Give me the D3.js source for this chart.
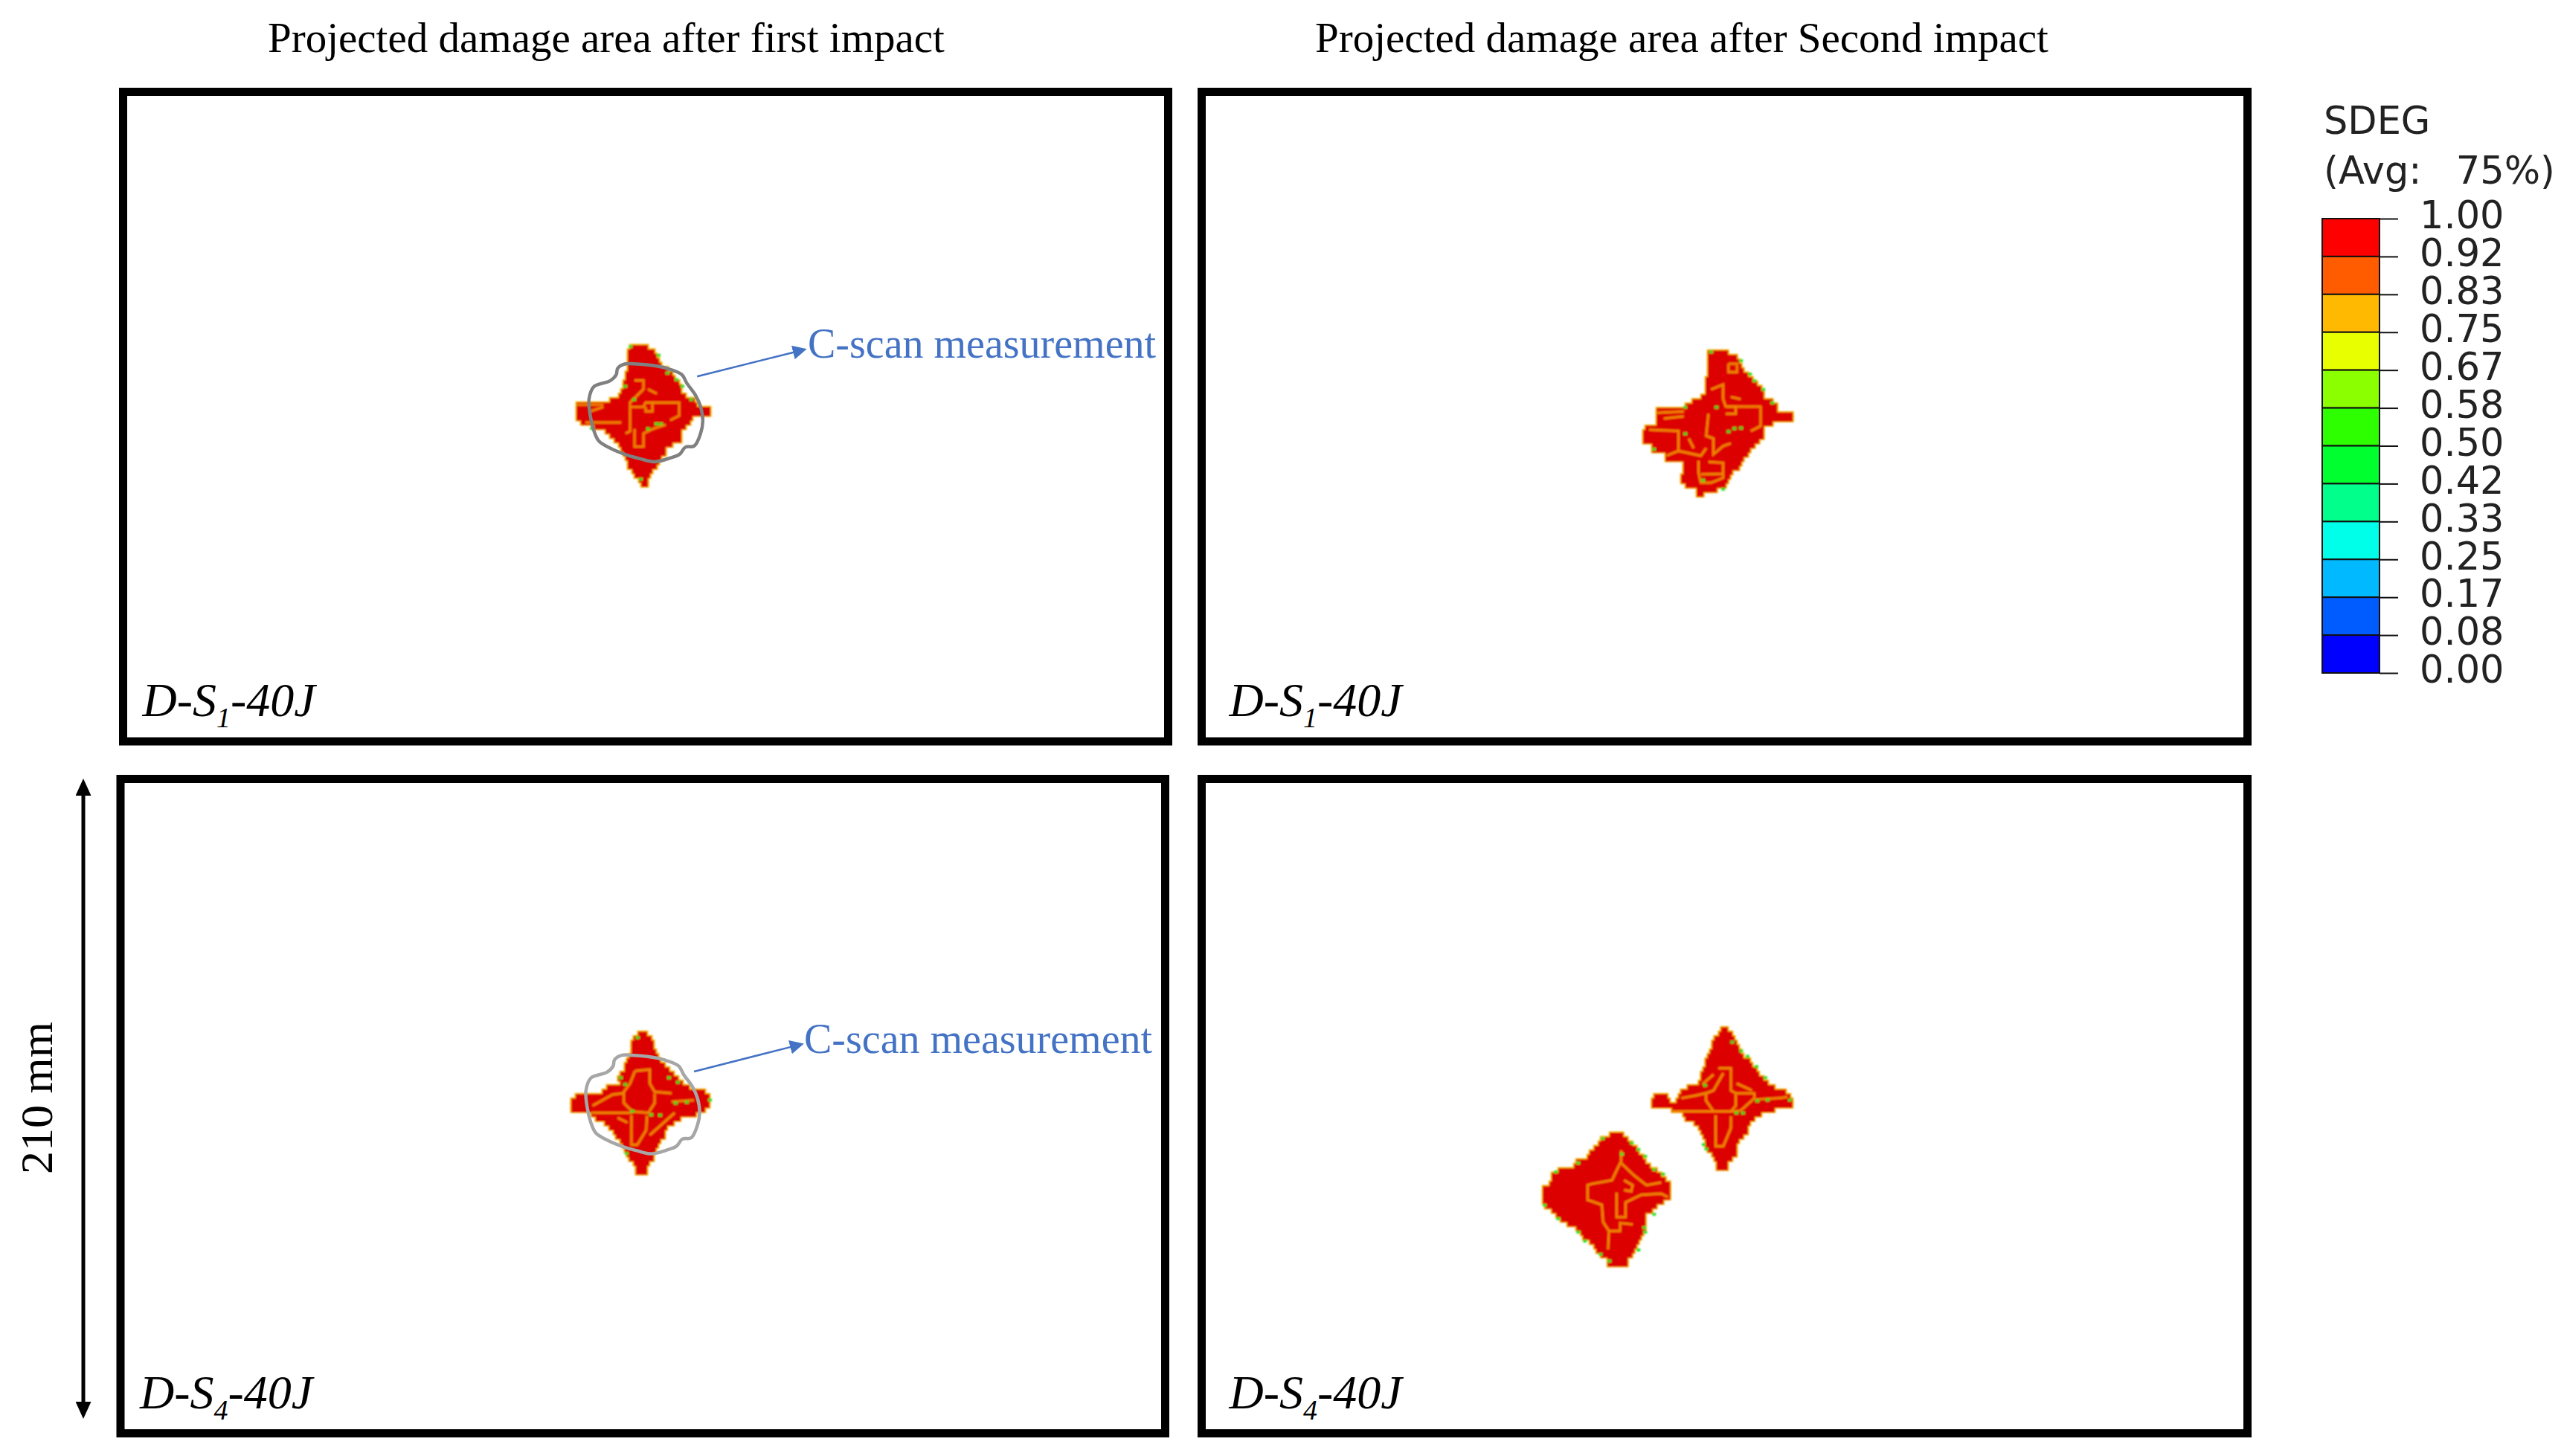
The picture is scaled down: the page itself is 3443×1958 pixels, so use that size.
<!DOCTYPE html>
<html>
<head>
<meta charset="utf-8">
<script src="https://cdn.jsdelivr.net/npm/d3@7"></script>
<style>
  html, body { margin: 0; padding: 0; background: #fff; }
  svg { display: block; }
  .serif { font-family: "Liberation Serif", serif; }
</style>
</head>
<body>
<div id="chart"></div>
<script>
// legend
const levels = ["1.00","0.92","0.83","0.75","0.67","0.58","0.50","0.42","0.33","0.25","0.17","0.08","0.00"];
const levelColors = ["#ff0000","#ff5c00","#ffb900","#e8ff00","#8bff00","#2eff00","#00ff2e","#00ff8b","#00ffe8","#00b9ff","#005cff","#0000ff"];

const columnTitles = ["Projected damage area after first impact", "Projected damage area after Second impact"];
const plateHeightMm = 210, plateWidthMm = 335, elementMm = 1.43;

// damage footprints: [row, first col, last col] in elements from the blob centre
const rowsA = [[-15,-3,1],[-14,-3.5,2.5],[-13,-3.5,3],[-12,-3.5,3.5],[-11,-3.5,4],[-10,-3.5,5.5],[-9,-4,6.5],[-8,-4,7],[-7,-4.5,8],[-6,-4.5,8.5],[-5,-5,8.5],[-4,-5.5,9.5],[-3,-7.5,11.5],[-2,-15,12],[-1,-15,15],[0,-15,15],[1,-15,11],[2,-14,10.5],[3,-11,9.5],[4,-8.5,8.5],[5,-7.5,8.5],[6,-6.5,8.5],[7,-5.5,6.5],[8,-5,5],[9,-4.5,5],[10,-4,4],[11,-3.5,3.5],[12,-3.5,3],[13,-2.5,2],[14,-2,1.5],[15,-1,1],[16,-0.5,1]];
const rowsB = [[-16,-4,0.5],[-15,-4,2.5],[-14,-4,3],[-13,-4,3.5],[-12,-4,4],[-11,-4,5],[-10,-4.5,6],[-9,-4.5,7],[-8,-4.5,8],[-7,-4.5,8.5],[-6,-5.5,8.5],[-5,-7.5,10.5],[-4,-9,11.5],[-3,-15.5,11.5],[-2,-15.5,15],[-1,-15.5,15],[0,-15.5,10.5],[1,-18,8.5],[2,-18.5,8.5],[3,-18.5,8.5],[4,-18.5,7.5],[5,-16.5,6.5],[6,-16.5,5.5],[7,-13.5,5],[8,-13.5,4],[9,-9.5,3.5],[10,-9.5,3],[11,-9.5,1.5],[12,-10,1],[13,-10,0.5],[14,-9,0],[15,-6.5,-2],[16,-6.5,-5]];
const rowsC = [[-16,-0.5,1.5],[-15,-1.5,2.5],[-14,-2,3],[-13,-2,3],[-12,-2,3.5],[-11,-2.5,4],[-10,-3,4.5],[-9,-3.5,5.5],[-8,-3.5,6.5],[-7,-4.5,7.5],[-6,-5,8.5],[-5,-4.5,9.5],[-4,-7.5,11],[-3,-8.5,14.5],[-2,-14.5,15.5],[-1,-15.5,15.5],[0,-15.5,15.5],[1,-15.5,14.5],[2,-11,12.5],[3,-10,9],[4,-8,7.5],[5,-7,6],[6,-6,5.5],[7,-5.5,5.5],[8,-4.5,4.5],[9,-4,4],[10,-3.5,3.5],[11,-3,3],[12,-2.5,3],[13,-1.5,2],[14,-1,1.5],[15,-1,1.5]];
const rowsD1 = [[-17,-0.5,1],[-16,-1,2],[-15,-2,2.5],[-14,-2.5,3],[-13,-2.5,3.5],[-12,-3,4],[-11,-3.5,4.5],[-10,-4,6],[-9,-4,6.5],[-8,-4.5,7.5],[-7,-5,8],[-6,-5,9],[-5,-5.5,10],[-4,-8,11.5],[-3,-9.5,14],[-2,-15.5,-12.5],[-2,-10,15],[-1,-16,-12],[-1,-10.5,15.5],[0,-16,15.5],[1,-11.5,11.5],[2,-9,8.5],[3,-8.5,7],[4,-6.5,6],[5,-5.5,5.5],[6,-5,5.5],[7,-4.5,4.5],[8,-4,3.5],[9,-4,3],[10,-3.5,3],[11,-2.5,3],[12,-2,2],[13,-1.5,1],[14,-1.5,1]];
const rowsD2 = [[-14,-1.5,1.5],[-13,-3.5,2.5],[-12,-4,3.5],[-11,-5,4.5],[-10,-6,5],[-9,-6.5,6],[-8,-9,6.5],[-7,-9.5,7.5],[-6,-13,9],[-5,-14.5,10],[-4,-14.5,11],[-3,-15,12],[-2,-16.5,12],[-1,-16.5,12],[0,-16.5,12],[1,-16.5,10.5],[2,-16,9],[3,-14.5,8],[4,-13.5,6.5],[5,-12.5,6.5],[6,-11,6.5],[7,-9,6.5],[8,-8,6],[9,-7.5,5.5],[10,-6,5],[11,-5,4.5],[12,-4.5,4],[13,-3.5,3.5],[14,-2,2.5],[15,-2,2.5]];

// lower-value bands between plies
const cracksA = [[[-3,-1.5],[-3,4.5],[-4,5]],[[-3,-1],[0,-1],[0.5,-2],[2,-2],[2,0],[0.5,0],[0.5,-1]],[[2,-2],[8,-2],[8,1],[6,2]],[[-2,-7],[0,-7],[0,-5],[-3,-2],[-3,-1.5]],[[-15,-1.5],[-9,-1.5]],[[-13,2.5],[-5,2.5]],[[-2,4],[-2,8],[0,8],[0,5],[2,4],[5,3]],[[1,-5],[3,-4]],[[-12,0],[-9,-1]]];
const cracksB = [[[-3.3,-7.2],[-0.6,-8.3],[-0.6,-5],[0,-3.3],[7.8,-3.3],[7.8,1.1],[5.6,2.2]],[[0.2,-3.3],[2.2,-3.3],[2.2,-1.7],[0,-1.7]],[[-3.9,-1.7],[-4.4,3.3],[-2.8,3.9],[-2.8,7.5],[-0.6,5.6],[1.1,5]],[[-15.5,-1.9],[-9.4,-2.2]],[[-13.9,-0.6],[-9.4,-1.1]],[[-17.2,1.9],[-10.6,2.2],[-10.6,6.7],[-13.3,7.8]],[[-10.6,6.7],[-5.6,7.8],[-4.4,6.1]],[[-6.1,8.9],[-6.1,11.7],[-5.6,13.9],[-3.3,13.9],[-0.6,12.8],[-0.6,9.4],[-3.9,9.2]],[[-5.6,12],[-0.6,11.9]],[[0.6,-13],[2.5,-13],[2.5,-11.1],[0.6,-11.1],[0.6,-13]],[[1.1,-5.5],[3.3,-5]],[[-8.3,3.9],[-7.2,6.1]]];
const cracksC = [[[-1.2,-7.2],[2.1,-7.5],[2.1,-4.4],[3.2,-2.5],[7,-2.2]],[[-1.2,-7.2],[-2.3,-4.4],[-3.7,-2.5],[-3.7,0],[-1.8,1.9],[1.8,2.2],[3.2,0],[3.2,-2.2]],[[-10.9,2.2],[-1.8,2.2]],[[-2,2.8],[-2,9.4],[-0.7,9.4],[1.3,6.1],[1.5,2.8]],[[-10.7,0.6],[-6.2,-1.9],[-3.7,-2.2]],[[7,-0.3],[12,-0.6]],[[2.1,7.2],[7.7,2.2]],[[-5.1,3.3],[-2.9,4.4]]];
const cracksD1 = [[[-1.1,-7.8],[1.7,-7.8],[1.7,-2.8],[2.8,-2.2],[2.8,0.6],[1.7,1.9],[-2.2,1.9],[-3.9,-0.6],[-3.9,-2.2],[-2.2,-2.8],[0,-6.7]],[[2.8,-2.2],[6.9,-2.2],[7,-1.1],[3.9,1.7],[1.7,1.9]],[[-11.7,1.9],[-2.2,1.9]],[[-1.7,2.8],[-1.7,9.7],[0,9.7],[1.7,5.6],[1.7,3]],[[-9.4,-1.1],[-6.1,-1.7],[-3.9,-2.2]],[[7.2,-0.8],[12.8,-1.1],[14.4,-1.4]],[[-4.7,-4.2],[-2.2,-6.4]],[[3,-4.4],[6.4,-2.8]]];
const cracksD2 = [[[1,-10],[1,-7.5],[0,-5.5],[-1,-3.3],[-5.5,-2.5],[-6.5,-2.2],[-6.5,1.1],[-3.3,2.2],[-3,6.1],[-1.7,8.1],[0.8,8.1],[0.8,6.3],[3.6,6.6]],[[0,-0.5],[0,5],[2,5],[2,1.7],[5.5,0],[10,-0.3],[11.5,0.5]],[[1,-7.2],[3.9,-4.4],[6.7,-2.2],[10,-2.8]],[[1.7,-3.3],[3.6,-2.2],[3.3,-0.8],[1.7,-1.1]],[[-1.7,8.1],[-1.9,12.2]]];

// green low-value elements, mostly along the rim
const greenA = [[-3.3,-15],[3,-13],[5,-9],[7,-7.5],[8.3,-6],[10.3,-3],[-1,15],[-12,3.5],[2.5,2.5],[3.5,2.5],[0.6,3.6],[-2.5,-3],[-4.5,-6]];
const greenB = [[-3.7,-16],[3,-14],[5,-11],[6,-9.5],[8,-7.5],[10,-4.5],[-9.5,-3.5],[-16.5,6],[-9.5,2.5],[1.5,1.3],[3,1.2],[0.2,2],[-2.5,-3.5],[-5.5,13],[-1,15]];
const greenC = [[-1,-15],[-4.8,-6],[6,-6],[8,-5],[-3.8,-4.5],[2,2.3],[4,2.4],[7.5,-0.3],[10,-0.5],[-3.5,11],[-2.2,1.5],[15.2,-1]];
const greenD1 = [[1.6,-14],[3.6,-12],[5,-10.8],[7,-8.5],[9,-6],[2.5,1.9],[4,1.9],[7.2,-0.8],[9.5,-1],[-4.5,-4.3],[-4.2,10],[14.5,-1],[-4.8,9]];
const greenD2 = [[-3.5,-13],[3,-12],[4.5,-10.5],[6,-9],[8,-6],[10,-5],[-9,-7.5],[-14,-5.5],[-16.5,2],[-13.5,5],[-9,8],[-7.5,10],[-4,13],[5.8,7],[6,8],[4.5,12],[8,4],[0.8,-9.5],[-2,14.5]];

// blob centres in plate mm
const centreA = [166.8,103.3], centreB = [167.9,106.5], centreC = [166.7,104], centreD1 = [167.1,104], centreD2 = [132.9,133.5];

// C-scan outline, elements from the blob centre
const cscanOutline = [[-4.2,-10.7],[-1.4,-10.7],[1.9,-10.4],[5.3,-9.7],[8.6,-8.3],[9.7,-6.4],[11.7,-3.6],[12.8,-1.1],[13.3,2.2],[12.8,5],[11.4,7.8],[9.4,8.1],[8.1,9.7],[5.8,10.6],[2.5,11.4],[-0.8,10.7],[-4.2,9.7],[-7.5,8.3],[-10,6.7],[-11.1,4.4],[-11.9,1.1],[-12.2,-2.8],[-11.1,-5.6],[-7.5,-6.9],[-6.1,-8.3],[-5.8,-9.7]];

const width = 3443, height = 1958;
const svg = d3.select("#chart").append("svg").attr("width", width).attr("height", height);
const defs = svg.append("defs");
defs.append("filter").attr("id", "soft")
  .attr("x", "-5%").attr("y", "-5%").attr("width", "110%").attr("height", "110%")
  .append("feGaussianBlur").attr("stdDeviation", 1.1);

function addHead(id, colour, w, l) {
  defs.append("marker").attr("id", id)
    .attr("markerUnits", "userSpaceOnUse")
    .attr("viewBox", `0 0 ${l} ${w}`)
    .attr("markerWidth", l).attr("markerHeight", w)
    .attr("refX", 1).attr("refY", w / 2)
    .attr("orient", "auto-start-reverse")
    .append("path").attr("d", `M0,0L${l},${w/2}L0,${w}Z`).attr("fill", colour);
}
addHead("headBlack", "#000", 21, 23);
addHead("headBlue", "#4472c4", 19, 19);

const panels = [
  {x0:165.5, x1:1570.5, y0:123.5, y1:997, label:"1", blobs:[[centreA,rowsA,cracksA,greenA]], cscan:{centre:centreA, colour:"#808080", from:[184,92], to:[215,84.2], textX:1086, textY:481}},
  {x0:1615.5, x1:3021.5, y0:123.5, y1:997, label:"1", blobs:[[centreB,rowsB,cracksB,greenB]]},
  {x0:162, x1:1566.5, y0:1047.5, y1:1927.5, label:"4", blobs:[[centreC,rowsC,cracksC,greenC]], cscan:{centre:centreC, colour:"#a6a6a6", from:[183.9,93.9], to:[215,86], textX:1081, textY:1416}},
  {x0:1615.5, x1:3021.5, y0:1047.5, y1:1927.5, label:"4", blobs:[[centreD1,rowsD1,cracksD1,greenD1],[centreD2,rowsD2,cracksD2,greenD2]]}
];

panels.forEach(p => {
  const x = d3.scaleLinear().domain([0, plateWidthMm]).range([p.x0, p.x1]);
  const y = d3.scaleLinear().domain([0, plateHeightMm]).range([p.y0, p.y1]);
  const g = svg.append("g");

  p.blobs.forEach(([centre, rows, cracks, spots]) => {
    const px = c => x(centre[0] + c * elementMm);
    const py = r => y(centre[1] + r * elementMm);
    const blob = g.append("g").attr("filter", "url(#soft)");
    const line = d3.line().x(d => px(d[0])).y(d => py(d[1]));

    blob.selectAll("rect.rim").data(rows).join("rect").attr("class", "rim")
      .attr("x", d => px(d[1]) - 1.5).attr("y", d => py(d[0]) - 1.5)
      .attr("width", d => px(d[2]) - px(d[1]) + 3).attr("height", d => py(d[0] + 1) - py(d[0]) + 3)
      .attr("fill", "#f2b400");
    blob.selectAll("rect.core").data(rows).join("rect").attr("class", "core")
      .attr("x", d => px(d[1])).attr("y", d => py(d[0]))
      .attr("width", d => px(d[2]) - px(d[1])).attr("height", d => py(d[0] + 1) - py(d[0]) + 0.5)
      .attr("fill", "#dc0000");
    blob.selectAll("path.crack").data(cracks).join("path").attr("class", "crack")
      .attr("d", line).attr("fill", "none")
      .attr("stroke", "#ee8400").attr("stroke-width", 3.2);
    blob.selectAll("rect.spot").data(spots).join("rect").attr("class", "spot")
      .attr("x", d => px(d[0])).attr("y", d => py(d[1]))
      .attr("width", 5).attr("height", 4)
      .attr("fill", "#22dd22");
  });

  if (p.cscan) {
    const c = p.cscan;
    g.append("path").datum(cscanOutline)
      .attr("d", d3.line()
        .x(d => x(c.centre[0] + d[0] * elementMm))
        .y(d => y(c.centre[1] + d[1] * elementMm))
        .curve(d3.curveCatmullRomClosed))
      .attr("fill", "none").attr("stroke", c.colour).attr("stroke-width", 4.5);
    g.append("line")
      .attr("x1", x(c.from[0])).attr("y1", y(c.from[1]))
      .attr("x2", x(c.to[0])).attr("y2", y(c.to[1]))
      .attr("stroke", "#4472c4").attr("stroke-width", 2.5)
      .attr("marker-end", "url(#headBlue)");
    g.append("text").attr("class", "serif")
      .attr("x", c.textX).attr("y", c.textY)
      .attr("font-size", 56).attr("fill", "#4472c4")
      .text("C-scan measurement");
  }

  g.append("rect")
    .attr("x", p.x0).attr("y", p.y0)
    .attr("width", p.x1 - p.x0).attr("height", p.y1 - p.y0)
    .attr("fill", "none").attr("stroke", "#000").attr("stroke-width", 11);

  // specimen label
  const t = g.append("text").attr("class", "serif")
    .attr("x", p.x0 + (p.x0 > 1000 ? 37 : 26)).attr("y", p.y1 - 34)
    .attr("font-size", 64).attr("font-style", "italic").attr("fill", "#000");
  t.append("tspan").text("D-S");
  t.append("tspan").attr("dy", 15).attr("font-size", 38).text(p.label);
  t.append("tspan").attr("dy", -15).text("-40J");
});

// column titles
svg.selectAll("text.title").data(columnTitles).join("text")
  .attr("class", "title serif")
  .attr("x", (d, i) => i === 0 ? 360 : 1768).attr("y", 70)
  .attr("font-size", 57).attr("fill", "#000")
  .text(d => d);

// 210 mm dimension
const dimY = d3.scaleLinear().domain([0, plateHeightMm]).range([1047, 1908]);
svg.append("line")
  .attr("x1", 112).attr("x2", 112)
  .attr("y1", dimY(0) + 22).attr("y2", dimY(plateHeightMm) - 22)
  .attr("stroke", "#000").attr("stroke-width", 5)
  .attr("marker-start", "url(#headBlack)").attr("marker-end", "url(#headBlack)");
svg.append("text").attr("class", "serif")
  .attr("transform", "translate(70,1579) rotate(-90)")
  .attr("font-size", 62).attr("fill", "#000")
  .text("210 mm");

// SDEG legend
const legendFont = "'DejaVu Sans', sans-serif";
const legendY = d3.scalePoint().domain(levels).range([294, 905]);
const legend = svg.append("g").attr("font-family", legendFont);
legend.append("text").attr("x", 3124).attr("y", 180).attr("font-size", 51).attr("fill", "#222").text("SDEG");
legend.append("text").attr("x", 3124).attr("y", 247).attr("font-size", 51).attr("fill", "#222")
  .attr("word-spacing", 30).text("(Avg: 75%)");
legend.selectAll("rect").data(levelColors).join("rect")
  .attr("x", 3122).attr("width", 77)
  .attr("y", (d, i) => legendY(levels[i]))
  .attr("height", legendY.step())
  .attr("fill", d => d)
  .attr("stroke", "#111").attr("stroke-width", 2);
const legendAxis = d3.axisRight(legendY).tickSize(25).tickPadding(29);
const axisG = legend.append("g").attr("transform", "translate(3199,0)").call(legendAxis);
axisG.select(".domain").remove();
axisG.selectAll("line").attr("stroke", "#111").attr("stroke-width", 2);
axisG.selectAll("text")
  .attr("font-family", legendFont).attr("font-size", 51).attr("fill", "#222")
  .attr("dy", "0.25em");
</script>
</body>
</html>
